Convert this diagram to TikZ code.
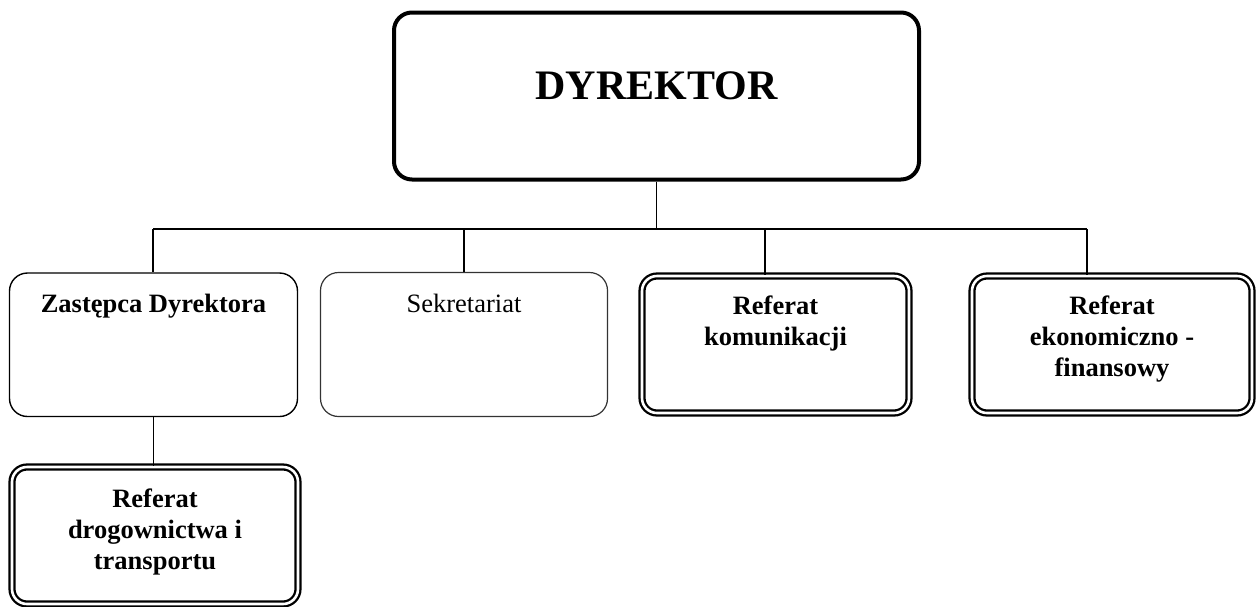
\documentclass[tikz,border=0pt]{standalone}
\usepackage{fontspec}
\setmainfont{Liberation Serif}
\usetikzlibrary{positioning}

\begin{document}
\begin{tikzpicture}[x=1pt, y=-1pt,
    line/.style={line width=1.2pt},
    headbox/.style={draw, line width=4pt, rounded corners=18pt},
    plainbox/.style={draw, line width=1.4pt, rounded corners=18pt},
    greybox/.style={draw=black!80, line width=1.2pt, rounded corners=18pt},
    refbox/.style={draw, line width=2.3pt, double, double distance=2.6pt, rounded corners=15pt},
    lbl/.style={inner sep=0pt, align=center, font=\fontsize{26.5}{31}\selectfont\bfseries}]
  \useasboundingbox (0,0) rectangle (1257,606);

  \node[headbox, minimum width=525pt, minimum height=167pt] (dyr) at (656.5,96) {};
  \node[lbl, font=\fontsize{42}{48}\selectfont\bfseries, below=60.5pt of dyr.north] (dyrT) {DYREKTOR};

  \node[plainbox, minimum width=288pt, minimum height=143.5pt] (zast) at (153.5,344.75) {};
  \node[lbl, below=22pt of zast.north] (zastT) {Zastępca Dyrektora};

  \node[greybox, minimum width=287pt, minimum height=144pt] (sekr) at (464,344.5) {};
  \node[lbl, font=\fontsize{26.5}{31}\selectfont, below=22.5pt of sekr.north] (sekrT) {Sekretariat};

  \node[refbox, minimum width=267pt, minimum height=137pt] (kom) at (775.5,344.5) {};
  \node[lbl, below=20.7pt of kom.north] (komT) {Referat\\komunikacji};

  \node[refbox, minimum width=280pt, minimum height=137pt] (eko) at (1112,344.5) {};
  \node[lbl, below=20.7pt of eko.north] (ekoT) {Referat\\ekonomiczno -\\finansowy};

  \node[refbox, minimum width=286pt, minimum height=137pt] (drog) at (155,535.5) {};
  \node[lbl, below=22.7pt of drog.north] (drogT) {Referat\\drogownictwa i\\transportu};

  \coordinate (barL) at (153,229);
  \coordinate (barR) at (1087,229);
  \coordinate (barK) at (765,229);

  \draw[line] (dyr.south) -- (dyr.south |- barL);
  \draw[line] (barL) -- (barR);
  \draw[line] (barL) -- (barL |- zast.north);
  \draw[line] (sekr.north |- barL) -- (sekr.north);
  \draw[line] (barK) -- (barK |- kom.north);
  \draw[line] (barR) -- (barR |- eko.north);
  \draw[line] (zast.south) -- (zast.south |- drog.north);
\end{tikzpicture}
\end{document}
